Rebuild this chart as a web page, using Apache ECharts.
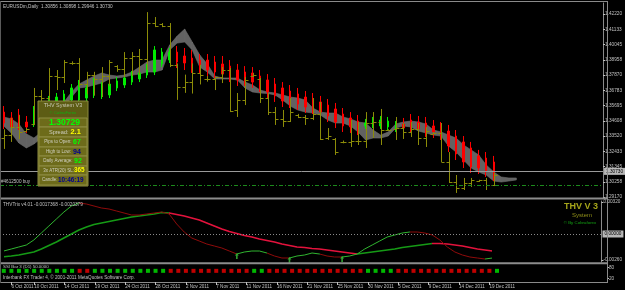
<!DOCTYPE html>
<html>
<head>
<meta charset="UTF-8">
<title>EURUSDm,Daily</title>
<script src="https://cdn.jsdelivr.net/npm/echarts@6/dist/echarts.min.js"></script>
<style>
html, body { margin: 0; padding: 0; background: #000; }
#chart { width: 625px; height: 290px; }
</style>
</head>
<body>
<div id="chart"></div>
<script>
// daily bars, Sunday bars included (MT4 broker feed)
var dates = ['5 Oct 2011','6 Oct 2011','7 Oct 2011','9 Oct 2011','10 Oct 2011','11 Oct 2011','12 Oct 2011','13 Oct 2011','14 Oct 2011','16 Oct 2011',
  '17 Oct 2011','18 Oct 2011','19 Oct 2011','20 Oct 2011','21 Oct 2011','23 Oct 2011','24 Oct 2011','25 Oct 2011','26 Oct 2011','27 Oct 2011',
  '28 Oct 2011','30 Oct 2011','31 Oct 2011','1 Nov 2011','2 Nov 2011','3 Nov 2011','4 Nov 2011','6 Nov 2011','7 Nov 2011','8 Nov 2011',
  '9 Nov 2011','10 Nov 2011','11 Nov 2011','13 Nov 2011','14 Nov 2011','15 Nov 2011','16 Nov 2011','17 Nov 2011','18 Nov 2011','20 Nov 2011',
  '21 Nov 2011','22 Nov 2011','23 Nov 2011','24 Nov 2011','25 Nov 2011','27 Nov 2011','28 Nov 2011','29 Nov 2011','30 Nov 2011','1 Dec 2011',
  '2 Dec 2011','4 Dec 2011','5 Dec 2011','6 Dec 2011','7 Dec 2011','8 Dec 2011','9 Dec 2011','11 Dec 2011','12 Dec 2011','13 Dec 2011',
  '14 Dec 2011','15 Dec 2011','16 Dec 2011','18 Dec 2011','19 Dec 2011','20 Dec 2011'];
var shiftBars = 14;  // empty space right of the last bar
var dateLabelIdx = [1,4,8,12,16,20,24,28,32,36,40,44,48,52,56,60,64];

// real OHLC bars (olive)
var barOpen = [1.3340,1.3360,1.3420,1.3390,1.3440,1.3640,1.3620,1.3780,1.3770,1.3870,
  1.3875,1.3720,1.3790,1.3760,1.3780,1.3850,1.3830,1.3910,1.3920,1.3900,
  1.4160,1.4150,1.4135,1.3860,1.3700,1.3740,1.3800,1.3760,1.3760,1.3770,
  1.3820,1.3540,1.3610,1.3780,1.3760,1.3620,1.3520,1.3470,1.3460,1.3500,
  1.3490,1.3480,1.3510,1.3340,1.3330,1.3310,1.3310,1.3320,1.3320,1.3445,
  1.3450,1.3395,1.3400,1.3410,1.3380,1.3400,1.3340,1.3370,1.3375,1.3170,
  1.3025,1.2980,1.3020,1.3030,1.3035,1.3006];
var barHigh = [1.3400,1.3480,1.3500,1.3410,1.3695,1.3680,1.3837,1.3823,1.3894,1.3885,
  1.3908,1.3810,1.3810,1.3844,1.3894,1.3858,1.3951,1.3951,1.3973,1.4236,
  1.4201,1.4158,1.4158,1.3870,1.3790,1.3870,1.3860,1.3780,1.3773,1.3844,
  1.3837,1.3659,1.3773,1.3801,1.3766,1.3659,1.3559,1.3538,1.3623,1.3510,
  1.3502,1.3623,1.3595,1.3409,1.3338,1.3320,1.3466,1.3452,1.3523,1.3523,
  1.3545,1.3400,1.3488,1.3445,1.3452,1.3445,1.3416,1.3380,1.3445,1.3238,
  1.3074,1.3053,1.3053,1.3040,1.3053,1.3090];
var barLow = [1.3260,1.3310,1.3330,1.3385,1.3430,1.3560,1.3609,1.3680,1.3730,1.3860,
  1.3700,1.3650,1.3640,1.3630,1.3710,1.3810,1.3773,1.3780,1.3788,1.3823,
  1.4129,1.4129,1.3844,1.3610,1.3660,1.3655,1.3720,1.3740,1.3680,1.3730,
  1.3523,1.3488,1.3573,1.3773,1.3588,1.3502,1.3431,1.3417,1.3452,1.3480,
  1.3431,1.3466,1.3324,1.3324,1.3217,1.3300,1.3274,1.3288,1.3267,1.3338,
  1.3288,1.3390,1.3324,1.3331,1.3345,1.3288,1.3274,1.3365,1.3167,1.3017,
  1.2946,1.2967,1.2989,1.3025,1.2967,1.2995];
var barClose = [1.3360,1.3420,1.3380,1.3400,1.3640,1.3620,1.3780,1.3770,1.3880,1.3875,
  1.3720,1.3790,1.3760,1.3780,1.3880,1.3830,1.3910,1.3920,1.3900,1.4160,
  1.4140,1.4135,1.3860,1.3700,1.3740,1.3800,1.3790,1.3760,1.3770,1.3820,
  1.3530,1.3610,1.3750,1.3790,1.3620,1.3520,1.3470,1.3460,1.3520,1.3490,
  1.3480,1.3510,1.3330,1.3350,1.3240,1.3310,1.3315,1.3320,1.3445,1.3450,
  1.3395,1.3395,1.3410,1.3380,1.3400,1.3340,1.3390,1.3375,1.3170,1.3025,
  1.2980,1.3020,1.3040,1.3035,1.3000,1.3073];

// heiken ashi candles (green / red)
var haOpen = [1.3523,1.3481,1.3502,1.3452,1.3438,1.3488,1.3531,1.3566,1.3595,1.3609,
  1.3609,1.3623,1.3645,1.3638,1.3645,1.3695,1.3716,1.3737,1.3759,1.3787,
  1.3809,1.3866,1.3894,1.3951,1.3923,1.3908,1.3894,1.3894,1.3880,1.3866,
  1.3851,1.3823,1.3809,1.3802,1.3780,1.3752,1.3723,1.3695,1.3673,1.3652,
  1.3630,1.3616,1.3595,1.3573,1.3545,1.3509,1.3481,1.3459,1.3424,1.3431,
  1.3424,1.3417,1.3402,1.3438,1.3466,1.3452,1.3445,1.3424,1.3409,1.3388,
  1.3352,1.3310,1.3267,1.3210,1.3195,1.3167];
var haClose = [1.3445,1.3417,1.3438,1.3417,1.3538,1.3580,1.3609,1.3630,1.3652,1.3695,
  1.3723,1.3695,1.3737,1.3709,1.3723,1.3745,1.3766,1.3787,1.3802,1.3837,
  1.3966,1.3951,1.3951,1.3880,1.3873,1.3859,1.3844,1.3823,1.3809,1.3794,
  1.3780,1.3752,1.3752,1.3737,1.3709,1.3666,1.3638,1.3602,1.3595,1.3580,
  1.3559,1.3552,1.3523,1.3495,1.3452,1.3424,1.3417,1.3402,1.3445,1.3459,
  1.3466,1.3459,1.3431,1.3409,1.3417,1.3402,1.3388,1.3381,1.3367,1.3281,
  1.3224,1.3167,1.3131,1.3124,1.3103,1.3074];
var haLow = [1.3402,1.3374,1.3395,1.3374,1.3417,1.3466,1.3509,1.3545,1.3573,1.3588,
  1.3588,1.3602,1.3623,1.3616,1.3623,1.3673,1.3695,1.3716,1.3737,1.3766,
  1.3787,1.3844,1.3873,1.3837,1.3823,1.3802,1.3802,1.3780,1.3766,1.3752,
  1.3737,1.3709,1.3709,1.3695,1.3666,1.3623,1.3595,1.3559,1.3552,1.3538,
  1.3516,1.3509,1.3481,1.3452,1.3409,1.3381,1.3374,1.3359,1.3402,1.3409,
  1.3402,1.3395,1.3381,1.3367,1.3374,1.3359,1.3345,1.3338,1.3324,1.3238,
  1.3181,1.3124,1.3089,1.3081,1.3060,1.3031];
var haHigh = [1.3566,1.3523,1.3545,1.3495,1.3566,1.3609,1.3638,1.3659,1.3680,1.3723,
  1.3752,1.3723,1.3766,1.3737,1.3752,1.3773,1.3794,1.3816,1.3830,1.3866,
  1.3994,1.3980,1.3980,1.3994,1.3980,1.3966,1.3937,1.3937,1.3923,1.3923,
  1.3894,1.3866,1.3851,1.3844,1.3823,1.3794,1.3766,1.3737,1.3716,1.3695,
  1.3673,1.3659,1.3638,1.3616,1.3588,1.3552,1.3523,1.3502,1.3474,1.3488,
  1.3495,1.3488,1.3459,1.3481,1.3509,1.3495,1.3488,1.3466,1.3452,1.3431,
  1.3395,1.3352,1.3310,1.3253,1.3238,1.3210];

// grey cloud, drawn 3 bars ahead
var bandA = [1.3488,1.3474,1.3438,1.3367,1.3338,1.3381,1.3452,1.3523,1.3595,1.3666,
  1.3723,1.3752,1.3780,1.3802,1.3787,1.3780,1.3787,1.3809,1.3844,1.3880,
  1.3894,1.3894,1.4001,1.4065,1.4115,1.4023,1.3930,1.3866,1.3780,1.3766,
  1.3766,1.3766,1.3737,1.3716,1.3680,1.3666,1.3659,1.3645,1.3630,1.3623,
  1.3609,1.3552,1.3523,1.3516,1.3516,1.3488,1.3474,1.3452,1.3445,1.3395,
  1.3359,1.3381,1.3438,1.3452,1.3459,1.3452,1.3438,1.3395,1.3381,1.3359,
  1.3338,1.3288,1.3253,1.3217,1.3146,1.3096,1.3060,1.3053,1.3053];
var bandB = [1.3424,1.3374,1.3302,1.3267,1.3295,1.3338,1.3409,1.3481,1.3552,1.3630,
  1.3695,1.3702,1.3716,1.3730,1.3759,1.3766,1.3773,1.3787,1.3794,1.3809,
  1.3809,1.3823,1.3966,1.4015,1.4023,1.3966,1.3844,1.3809,1.3759,1.3759,
  1.3759,1.3752,1.3695,1.3666,1.3659,1.3655,1.3645,1.3609,1.3566,1.3538,
  1.3523,1.3516,1.3502,1.3466,1.3445,1.3445,1.3424,1.3381,1.3324,1.3338,
  1.3338,1.3352,1.3409,1.3424,1.3417,1.3388,1.3374,1.3359,1.3352,1.3281,
  1.3238,1.3181,1.3124,1.3096,1.3074,1.3031,1.3024,1.3031,1.3039];

var priceTicks = [1.42220,1.41133,1.40045,1.38958,1.37870,1.36783,1.35695,1.34608,1.33520,1.32433,1.31345,1.30258,1.29170];
var bidPrice = 1.30730;
var orderPrice = 1.29958;

// THVTrix
var trixFast = [-0.0017,-0.0015,-0.0013,-0.0011,-0.0006,0.0001,0.0008,0.0015,0.0022,0.0028,
  0.0031,0.0030,0.0028,0.0026,0.0025,0.0023,0.0021,0.0019,0.0019,0.0020,
  0.0021,0.0022,0.0020,0.0010,0.0002,-0.0004,-0.0007,-0.0010,-0.0012,-0.0014,
  -0.0017,-0.0020,-0.0018,-0.0017,-0.0017,-0.0019,-0.0022,-0.0024,-0.0024,-0.0022,
  -0.0021,-0.0019,-0.0020,-0.0022,-0.0023,-0.0023,-0.0022,-0.0020,-0.0015,-0.0011,
  -0.0007,-0.0003,-0.0001,0.0001,0.0002,0.0002,0.0001,-0.0001,-0.0006,-0.0013,
  -0.0018,-0.0021,-0.0023,-0.0024,-0.0025,-0.0024];
var trixSlow = [-0.00227,-0.0022,-0.0021,-0.00195,-0.0018,-0.0015,-0.00115,-0.0008,-0.0004,0,
  0.0004,0.0007,0.00095,0.0011,0.00125,0.0014,0.00155,0.0017,0.0018,0.0019,
  0.0020,0.00215,0.0021,0.00195,0.0018,0.0016,0.0014,0.0011,0.0008,0.0005,
  0.00025,0.00005,-0.00015,-0.0003,-0.0005,-0.00065,-0.0008,-0.0010,-0.00115,-0.0013,
  -0.00135,-0.00145,-0.0015,-0.0016,-0.0017,-0.0018,-0.0019,-0.0020,-0.0019,-0.0018,
  -0.0017,-0.0016,-0.0015,-0.00135,-0.00125,-0.00115,-0.00105,-0.00095,-0.00095,-0.0010,
  -0.0011,-0.0012,-0.00135,-0.0015,-0.0016,-0.0017];
var fastTurns = [10,31,35,38,42,45,54,64];   // colour flips, starts rising
var slowTurns = [22,47,57];
var arrowBars = [31,38,45];
var trixTicks = [0.0032,-0.0026];

// bar-state squares, G = up, R = down
var dotState = 'GGGGGGGGGGRRGGGGGGGGGGRRRRRRRRRRRGGRRRRRRRRRRRRRGGGGRRRRRRRRRRRRRG'.split('');
var dotTicks = [80,20];

var FONT = '"Liberation Sans", Arial, sans-serif';
var AXC = '#c0c0c0';

var cats = dates.concat(new Array(shiftBars).fill(''));

var oliveData = barOpen.map(function (o, i) { return [i, o, barHigh[i], barLow[i], barClose[i]]; });
var haData = haOpen.map(function (o, i) { return [o, haClose[i], haLow[i], haHigh[i]]; });
var bandData = [];
for (var i = 0; i < bandA.length - 1; i++) {
  bandData.push([i, bandA[i], bandB[i], bandA[i + 1], bandB[i + 1]]);
}

function pieces(turns, n, up, dn) {
  var edges = [0].concat(turns);
  var out = [];
  for (var k = 0; k < edges.length; k++) {
    var p = { gte: edges[k], color: k % 2 ? dn : up };
    if (k < edges.length - 1) p.lt = edges[k + 1]; else p.lte = n;
    out.push(p);
  }
  return out;
}

function txt(x, y, text, fill, size, align, weight) {
  return { type: 'text', x: x, y: y, z: 100, silent: true,
    style: { text: text, fill: fill, fontSize: size, fontFamily: FONT, fontWeight: weight || 'normal',
      align: align || 'left', textAlign: align || 'left', verticalAlign: 'middle', textVerticalAlign: 'middle' } };
}
function box(x, y, w, h, fill, stroke, z) {
  return { type: 'rect', z: z || 90, silent: true, shape: { x: x, y: y, width: w, height: h },
    style: { fill: fill, stroke: stroke || null, lineWidth: 1 } };
}

function catAxis(g, withLabels) {
  return {
    type: 'category', gridIndex: g, data: cats, boundaryGap: true,
    axisLine: { show: withLabels, lineStyle: { color: '#8a8a8a' } },
    axisTick: { show: withLabels, alignWithLabel: true, length: 3, lineStyle: { color: AXC },
      interval: function (idx) { return dateLabelIdx.indexOf(idx) >= 0; } },
    axisLabel: { show: withLabels, color: AXC, fontSize: 4.6, fontFamily: FONT, align: 'left', margin: 2,
      interval: function (idx) { return dateLabelIdx.indexOf(idx) >= 0; } },
    splitLine: { show: false }
  };
}

function valAxis(g, min, max, ticks, fmt) {
  return { type: 'value', gridIndex: g, position: 'right', min: min, max: max,
    axisLine: { show: true, lineStyle: { color: '#8a8a8a' } },
    axisTick: { show: true, length: 2, customValues: ticks, lineStyle: { color: AXC } },
    axisLabel: { color: AXC, fontSize: 4.7, fontFamily: FONT, margin: 2, align: 'left',
      customValues: ticks, formatter: fmt },
    splitLine: { show: false } };
}
function five(v) { return v.toFixed(5); }

var chart = echarts.init(document.getElementById('chart'));
chart.setOption({
  backgroundColor: '#000000',
  animation: false,
  grid: [
    { left: 0, top: 3, width: 607, height: 195 },
    { left: 0, top: 201, width: 607, height: 61 },
    { left: 0, top: 264, width: 607, height: 18 }
  ],
  xAxis: [catAxis(0, false), catAxis(1, false), catAxis(2, true)],
  yAxis: [
    valAxis(0, 1.2910, 1.4301, priceTicks, five),
    valAxis(1, -0.0028, 0.0033, trixTicks, five),
    valAxis(2, 0, 100, dotTicks, function (v) { return String(v); })
  ],
  visualMap: [
    { type: 'piecewise', show: false, seriesIndex: 3, dimension: 0,
      pieces: pieces(slowTurns, dates.length - 1, '#159a15', '#e3123c') },
    { type: 'piecewise', show: false, seriesIndex: 4, dimension: 0,
      pieces: pieces(fastTurns, dates.length - 1, '#2fb52f', '#8e0a0a') }
  ],
  series: [
    { // cloud
      type: 'custom', xAxisIndex: 0, yAxisIndex: 0, z: 1, silent: true,
      data: bandData, encode: { x: 0, y: [1, 2] },
      renderItem: function (params, api) {
        var i = api.value(0);
        var pts = [api.coord([i, api.value(1)]), api.coord([i + 1, api.value(3)]),
                   api.coord([i + 1, api.value(4)]), api.coord([i, api.value(2)])];
        return { type: 'polygon', shape: { points: pts },
          style: { fill: '#626262', stroke: '#6e6e6e', lineWidth: 0.6 } };
      }
    },
    { // OHLC bars, drawn over the HA candles
      type: 'custom', xAxisIndex: 0, yAxisIndex: 0, z: 3, silent: true,
      data: oliveData, encode: { x: 0, y: [1, 2, 3, 4] },
      renderItem: function (params, api) {
        var i = api.value(0);
        var o = api.coord([i, api.value(1)]), h = api.coord([i, api.value(2)]),
            l = api.coord([i, api.value(3)]), c = api.coord([i, api.value(4)]);
        var x = Math.round(o[0]) + 0.5;
        var oy = Math.round(o[1]) + 0.5, cy = Math.round(c[1]) + 0.5;
        var st = { stroke: '#8c8c08', lineWidth: 1 };
        return { type: 'group', children: [
          { type: 'line', shape: { x1: x, y1: h[1], x2: x, y2: l[1] }, style: st },
          { type: 'line', shape: { x1: x - 3, y1: oy, x2: x, y2: oy }, style: st },
          { type: 'line', shape: { x1: x, y1: cy, x2: x + 3, y2: cy }, style: st }
        ] };
      }
    },
    { // heiken ashi
      type: 'candlestick', xAxisIndex: 0, yAxisIndex: 0, z: 2, silent: true,
      data: haData, barWidth: 2,
      itemStyle: { color: '#00ee00', color0: '#ff0000', borderColor: '#00ee00', borderColor0: '#ff0000', borderWidth: 1 },
      markLine: {
        silent: true, symbol: 'none', animation: false,
        data: [
          { yAxis: bidPrice, lineStyle: { color: '#9a9a9a', width: 1, type: 'solid' },
            label: { show: true, position: 'end', distance: 1, formatter: bidPrice.toFixed(5),
              backgroundColor: '#b8b8b8', color: '#000', fontSize: 4.7, fontFamily: FONT, padding: [1, 2] } },
          { yAxis: orderPrice, lineStyle: { color: '#1c8a1c', width: 1, type: [4, 2, 1, 2] },
            label: { show: true, position: 'insideStartTop', distance: 1, formatter: '#4612500 buy',
              color: AXC, fontSize: 4.6, fontFamily: FONT } }
        ]
      }
    },
    { type: 'line', xAxisIndex: 1, yAxisIndex: 1, z: 3, data: trixSlow, showSymbol: false, symbol: 'none',
      lineStyle: { width: 1.6 }, silent: true },
    { type: 'line', xAxisIndex: 1, yAxisIndex: 1, z: 4, data: trixFast, showSymbol: false, symbol: 'none',
      lineStyle: { width: 1 }, silent: true },
    { type: 'scatter', xAxisIndex: 1, yAxisIndex: 1, z: 5, silent: true,
      data: arrowBars.map(function (b) { return [b, trixFast[b]]; }),
      symbol: 'path://M5,0 L10,5 L7,5 L7,12 L3,12 L3,5 L0,5 Z', symbolSize: [4, 6], symbolOffset: [0, 2],
      itemStyle: { color: '#3cc83c' },
      markLine: { silent: true, symbol: 'none', animation: false,
        data: [{ yAxis: 0, lineStyle: { color: '#8a8a8a', width: 1, type: [1, 2] },
          label: { show: true, position: 'end', distance: 1, formatter: '0.00000',
            backgroundColor: '#b8b8b8', color: '#000', fontSize: 4.7, fontFamily: FONT, padding: [1, 2] } }] } },
    { type: 'scatter', xAxisIndex: 2, yAxisIndex: 2, z: 3, silent: true,
      symbol: 'rect', symbolSize: 4,
      data: dotState.map(function (s, i) {
        return { value: [i, 62], itemStyle: { color: s === 'G' ? '#00e600' : '#f00000' } };
      }) }
  ],
  graphic: [
    // window frames
    box(0, 1, 607.5, 1, '#8a8a8a', null, 80),
    box(0, 197.5, 607.5, 2, '#8c8c8c', null, 80),
    box(0, 262.3, 607.5, 2, '#8c8c8c', null, 80),
    box(607, 1, 1, 282, '#8a8a8a', null, 80),
    box(0, 1, 1, 282, '#5a5a5a', null, 80),
    txt(3, 7, 'EURUSDm,Daily  1.30856 1.30898 1.29946 1.30730', AXC, 4.7),
    txt(3, 204.5, 'THVTrix v4.01 -0.0017368 -0.0020379', AXC, 4.7),
    txt(3, 267, 'SSI Bar 3 (D1) 50.0000', AXC, 4.4),
    txt(3, 278, 'Interbank FX Trader 4, \u00a9 2001-2011 MetaQuotes Software Corp.', AXC, 4.6),
    txt(581, 206.5, 'THV V 3', '#a5a51a', 9, 'center', 'bold'),
    txt(582, 215, 'System', '#8f8f18', 6, 'center'),
    txt(580, 222.5, '\u00a9 By Cobraforex', '#13a013', 4.4, 'center'),
    // info panel
    box(38, 101, 50, 85, '#5d5c14', '#8c8b3c'),
    txt(63, 106, 'THV System V3', '#c8c8b4', 5.4, 'center'),
    txt(63, 112.6, '\u00a9 CobraForex', '#10b010', 4.2, 'center'),
    box(39, 118, 48, 9, '#6d6b1a', '#8f8d42', 91),
    box(39, 127, 48, 10, '#6d6b1a', '#8f8d42', 91),
    box(39, 137, 48, 10, '#6d6b1a', '#8f8d42', 91),
    box(39, 147, 48, 9, '#6d6b1a', '#8f8d42', 91),
    box(39, 156, 48, 10, '#6d6b1a', '#8f8d42', 91),
    box(39, 166, 48, 9, '#6d6b1a', '#8f8d42', 91),
    box(39, 175, 48, 10, '#6d6b1a', '#8f8d42', 91),
    txt(64.5, 122.8, '1.30729', '#00ff00', 8.6, 'center', 'bold'),
    txt(68.5, 132.2, 'Spread:', '#cfcfc0', 5.6, 'right'),
    txt(70.5, 132.2, '2.1', '#ffff00', 7.4, 'left', 'bold'),
    txt(71.5, 142, 'Pips to Open:', '#cfcfc0', 4.5, 'right'),
    txt(73, 142, '67', '#00ff00', 7, 'left', 'bold'),
    txt(71, 151.6, 'High to Low:', '#cfcfc0', 4.5, 'right'),
    txt(73, 151.6, '94', '#000090', 7, 'left', 'bold'),
    txt(72.5, 161.2, 'Daily Average:', '#cfcfc0', 4.5, 'right'),
    txt(74, 161.2, '92', '#00ff00', 7, 'left', 'bold'),
    txt(74, 170.6, '3x ATR(20) SL:', '#cfcfc0', 4.5, 'right'),
    txt(74, 170.6, '365', '#ffff00', 6.4, 'left', 'bold'),
    txt(57.5, 180.2, 'Candle:', '#cfcfc0', 4.5, 'right'),
    txt(58, 180.2, '10:46:19', '#000090', 6.4, 'left', 'bold')
  ]
});
</script>
</body>
</html>
